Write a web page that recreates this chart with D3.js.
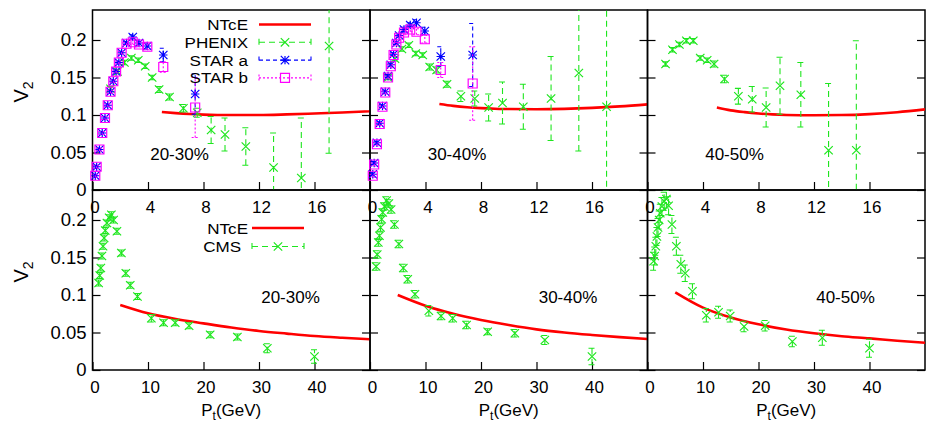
<!DOCTYPE html>
<html><head><meta charset="utf-8">
<script src="https://cdn.jsdelivr.net/npm/d3@7"></script>
<style>body{margin:0;background:#fff} svg{display:block}</style>
</head><body><svg id="c" width="926" height="436"></svg>
<script>
// ---------------- data ----------------
const centralityLabels = ["20-30%", "30-40%", "40-50%"];
const topXTicks = [0, 4, 8, 12, 16];
const bottomXTicks = [0, 10, 20, 30, 40];
const yTicks = [0, 0.05, 0.1, 0.15, 0.2];
const yTickLabels = ["0", "0.05", "0.1", "0.15", "0.2"];

// NTcE model curves
const ntceTopPt = [5, 6, 7, 8, 9, 10, 12, 14, 16, 18, 20];
const ntceTop2030 = [0.104, 0.1025, 0.1013, 0.1005, 0.1001, 0.1, 0.1, 0.1008, 0.102, 0.1033, 0.105];
const ntceTop3040 = [0.1147, 0.1122, 0.1104, 0.1092, 0.1084, 0.1079, 0.1077, 0.1082, 0.1095, 0.1115, 0.1142];
const ntceTop4050 = [0.110, 0.1062, 0.1038, 0.102, 0.1008, 0.1001, 0.0996, 0.0999, 0.1012, 0.1037, 0.1075];
const ntceBotPt = [5, 10, 15, 20, 25, 30, 35, 40, 45, 50];
const ntceBot2030 = [0.0867, 0.0756, 0.068, 0.0622, 0.0567, 0.052, 0.0485, 0.0453, 0.043, 0.041];
const ntceBot3040 = [0.100, 0.0857, 0.075, 0.0667, 0.060, 0.0542, 0.050, 0.0467, 0.0438, 0.0413];
const ntceBot4050 = [0.1035, 0.0831, 0.070, 0.0609, 0.054, 0.0489, 0.045, 0.0422, 0.039, 0.0364];

// PHENIX
const phenixPt = [1.3, 1.8, 2.3, 2.8, 3.3, 3.8, 4.3, 4.8, 5.55, 6.55, 7.55, 8.55, 9.55, 11.05, 13.05, 15.05, 17.05];
const phenix2030 = [0.135, 0.158, 0.170, 0.176, 0.173, 0.165, 0.150, 0.134, 0.124, 0.109, 0.103, 0.080, 0.074, 0.058, 0.030, 0.016, 0.192];
const phenix2030Err = [0.003, 0.003, 0.003, 0.003, 0.003, 0.003, 0.003, 0.004, 0.004, 0.005, 0.006, 0.018, 0.022, 0.025, 0.046, 0.080, 0.143];
const phenix3040 = [0.150, 0.175, 0.188, 0.193, 0.182, 0.180, 0.164, 0.160, 0.141, 0.125, 0.122, 0.110, 0.116, 0.111, 0.122, 0.156, 0.111];
const phenix3040Err = [0.003, 0.003, 0.003, 0.003, 0.003, 0.003, 0.004, 0.004, 0.004, 0.007, 0.010, 0.018, 0.028, 0.030, 0.056, 0.104, 0.160];
const phenix4050 = [0.168, 0.187, 0.194, 0.199, 0.199, 0.176, 0.173, 0.168, 0.148, 0.125, 0.121, 0.110, 0.139, 0.127, 0.053, 0.053, null];
const phenix4050Err = [0.003, 0.003, 0.003, 0.003, 0.003, 0.003, 0.003, 0.004, 0.005, 0.0105, 0.017, 0.026, 0.038, 0.043, 0.089, 0.146, null];

// STAR
const starPt = [0.2, 0.3, 0.5, 0.7, 0.9, 1.1, 1.3, 1.5, 1.7, 1.9, 2.1, 2.45, 2.9, 3.35, 3.95, 5.1, 7.4];
const starA2030 = [0.019, 0.031, 0.054, 0.076, 0.096, 0.113, 0.131, 0.145, 0.158, 0.170, 0.183, 0.196, 0.204, 0.196, 0.192, 0.180, 0.128];
const starA2030Err = [0.002, 0.002, 0.002, 0.002, 0.002, 0.002, 0.002, 0.002, 0.002, 0.002, 0.002, 0.002, 0.003, 0.003, 0.004, 0.009, 0.027];
const starB2030 = [0.019, 0.031, 0.054, 0.076, 0.096, 0.113, 0.131, 0.145, 0.158, 0.170, 0.183, 0.195, 0.197, 0.194, 0.191, 0.164, 0.110];
const starB2030Err = [0.002, 0.002, 0.002, 0.002, 0.002, 0.002, 0.002, 0.002, 0.002, 0.002, 0.002, 0.002, 0.003, 0.003, 0.004, 0.007, 0.040];
const starA3040 = [0.021, 0.036, 0.063, 0.089, 0.112, 0.131, 0.152, 0.167, 0.181, 0.196, 0.206, 0.214, 0.220, 0.223, 0.212, 0.178, 0.180];
const starA3040Err = [0.002, 0.002, 0.002, 0.002, 0.002, 0.002, 0.002, 0.002, 0.002, 0.002, 0.002, 0.003, 0.003, 0.004, 0.005, 0.013, 0.042];
const starB3040 = [0.019, 0.034, 0.061, 0.088, 0.111, 0.130, 0.150, 0.165, 0.180, 0.194, 0.203, 0.210, 0.214, 0.211, 0.201, 0.160, 0.142];
const starB3040Err = [0.002, 0.002, 0.002, 0.002, 0.002, 0.002, 0.002, 0.002, 0.002, 0.002, 0.002, 0.003, 0.003, 0.004, 0.005, 0.010, 0.049];

// CMS
const cmsPt = [1.1, 1.3, 1.5, 1.7, 1.9, 2.1, 2.3, 2.6, 3.0, 3.4, 3.8, 4.4, 5.2, 6.0, 6.8, 8.1, 10.6, 12.8, 14.9, 17.4, 21.2, 26.1, 31.5, 40.0];
const cms2030 = [0.116, 0.126, 0.136, 0.152, 0.165, 0.176, 0.186, 0.196, 0.203, 0.207, 0.200, 0.185, 0.156, 0.129, 0.113, 0.098, 0.069, 0.063, 0.063, 0.059, 0.047, 0.044, 0.029, 0.018];
const cms2030Err = [0.004, 0.004, 0.004, 0.004, 0.004, 0.004, 0.004, 0.004, 0.004, 0.004, 0.004, 0.004, 0.004, 0.004, 0.004, 0.004, 0.005, 0.004, 0.004, 0.004, 0.004, 0.004, 0.006, 0.009];
const cms3040 = [0.138, 0.154, 0.170, 0.179, 0.190, 0.201, 0.210, 0.218, 0.226, 0.222, 0.214, 0.194, 0.168, 0.136, 0.121, 0.101, 0.079, 0.072, 0.069, 0.060, 0.051, 0.049, 0.040, 0.018];
const cms3040Err = [0.005, 0.005, 0.005, 0.005, 0.005, 0.005, 0.005, 0.005, 0.005, 0.005, 0.005, 0.005, 0.005, 0.005, 0.005, 0.005, 0.007, 0.005, 0.005, 0.005, 0.004, 0.005, 0.006, 0.011];
const cms4050 = [0.145, 0.152, 0.165, 0.178, 0.190, 0.200, 0.209, 0.218, 0.225, 0.228, 0.219, 0.194, 0.165, 0.141, 0.129, 0.105, 0.073, 0.077, 0.072, 0.058, 0.059, 0.038, 0.043, 0.029];
const cms4050Err = [0.012, 0.012, 0.012, 0.012, 0.012, 0.012, 0.012, 0.012, 0.012, 0.012, 0.012, 0.012, 0.012, 0.012, 0.011, 0.010, 0.009, 0.008, 0.008, 0.007, 0.007, 0.007, 0.010, 0.012];

// ---------------- tables built from the arrays ----------------
const topRows = [
  { ntce: ntceTop2030, phenix: phenix2030, phenixErr: phenix2030Err, starA: starA2030, starAErr: starA2030Err, starB: starB2030, starBErr: starB2030Err },
  { ntce: ntceTop3040, phenix: phenix3040, phenixErr: phenix3040Err, starA: starA3040, starAErr: starA3040Err, starB: starB3040, starBErr: starB3040Err },
  { ntce: ntceTop4050, phenix: phenix4050, phenixErr: phenix4050Err, starA: null, starB: null }
];
const bottomRows = [
  { ntce: ntceBot2030, cms: cms2030, cmsErr: cms2030Err },
  { ntce: ntceBot3040, cms: cms3040, cmsErr: cms3040Err },
  { ntce: ntceBot4050, cms: cms4050, cmsErr: cms4050Err }
];

// ---------------- drawing ----------------
const FONT = '"Liberation Sans", Arial, Helvetica, sans-serif';
const FS = 17;
const RED = "#ff0000", GREEN = "#1ee61e", BLUE = "#0000ff", MAGENTA = "#ff00ff";
const svg = d3.select("#c");
const L0 = 92.5, W = 277.5, TOP = 10, H = 180;
const defs = svg.append("defs");

function makePanel(row, col) {
  const x0 = L0 + col * W, y0 = TOP + row * H;
  const x = d3.scaleLinear().domain(row === 0 ? [0, 20] : [0, 50]).range([x0, x0 + W]);
  const y = d3.scaleLinear().domain([0, 0.24]).range([y0 + H, y0]);
  const id = "clip" + row + col;
  defs.append("clipPath").attr("id", id).append("rect")
    .attr("x", x0).attr("y", y0).attr("width", W).attr("height", H);
  return { x, y, x0, y0, row, col, clip: "url(#" + id + ")" };
}

function drawAxes(p) {
  const xt = p.row === 0 ? topXTicks : bottomXTicks;
  const gx = svg.append("g").attr("transform", `translate(0,${p.y0 + H})`)
    .call(d3.axisBottom(p.x).tickValues(xt).tickSize(-8).tickPadding(11).tickFormat(d3.format("d")));
  gx.select(".domain").remove();
  gx.attr("font-size", FS).attr("font-family", FONT);
  gx.selectAll("text").attr("fill", "#000").attr("dx", 2);
  gx.selectAll("line").attr("stroke", "#000").attr("stroke-width", 1.2);

  const gy = svg.append("g").attr("transform", `translate(${p.x0},0)`)
    .call(d3.axisLeft(p.y).tickValues(yTicks).tickSize(-8).tickPadding(6)
      .tickFormat((d, i) => p.col === 0 ? yTickLabels[i] : ""));
  gy.select(".domain").remove();
  gy.attr("font-size", 18.5).attr("font-family", FONT);
  gy.selectAll("text").attr("fill", "#000");
  gy.selectAll("line").attr("stroke", "#000").attr("stroke-width", 1.2);

  const gr = svg.append("g").attr("transform", `translate(${p.x0 + W},0)`)
    .call(d3.axisRight(p.y).tickValues(yTicks).tickSize(-8).tickFormat(""));
  gr.select(".domain").remove();
  gr.selectAll("line").attr("stroke", "#000").attr("stroke-width", 1.2);
}

function drawFrame(p) {
  svg.append("rect").attr("x", p.x0).attr("y", p.y0).attr("width", W).attr("height", H)
    .attr("fill", "none").attr("stroke", "#000").attr("stroke-width", 1.5);
}

function drawCurve(p, pts, vals) {
  svg.append("path").datum(pts.map((d, i) => [d, vals[i]]))
    .attr("d", d3.line().x(d => p.x(d[0])).y(d => p.y(d[1])).curve(d3.curveMonotoneX))
    .attr("fill", "none").attr("stroke", RED).attr("stroke-width", 2.6)
    .attr("clip-path", p.clip);
}

function markerPath(type, cx, cy, s) {
  const cross = `M${cx - s},${cy - s}L${cx + s},${cy + s}M${cx - s},${cy + s}L${cx + s},${cy - s}`;
  if (type === "x") return cross;
  if (type === "star") return cross + `M${cx - s},${cy}L${cx + s},${cy}M${cx},${cy - s}L${cx},${cy + s}`;
  return `M${cx - s},${cy - s}H${cx + s}V${cy + s}H${cx - s}Z`;
}

function drawErrSeries(p, pts, vals, errs, color, dash, type) {
  const g = svg.append("g");
  const eg = g.append("g").attr("clip-path", p.clip);
  const cap = 3.5;
  pts.forEach((pt, i) => {
    const v = vals[i];
    if (v == null) return;
    const cx = p.x(pt), cy = p.y(v);
    const e = errs[i];
    const yl = p.y(v - e), yh = p.y(v + e);
    eg.append("path")
      .attr("d", `M${cx},${yl}V${yh}M${cx - cap},${yl}H${cx + cap}M${cx - cap},${yh}H${cx + cap}`)
      .attr("stroke", color).attr("stroke-width", 1.1).attr("fill", "none")
      .attr("stroke-dasharray", dash);
    g.append("path").attr("d", markerPath(type, cx, cy, type === "sq" ? 4.5 : 4.2))
      .attr("stroke", color).attr("stroke-width", 1.2).attr("fill", "none");
  });
}

function legendRow(yc, label, color, dash, type, textX, lx1, lx2) {
  svg.append("g").attr("transform", `translate(${textX},${yc + 5.5}) scale(1.1,1)`)
    .append("text").attr("x", 0).attr("y", 0).attr("text-anchor", "end")
    .attr("font-family", FONT).attr("font-size", 15.5).text(label);
  if (type === "line") {
    svg.append("line").attr("x1", lx1).attr("x2", lx2).attr("y1", yc).attr("y2", yc)
      .attr("stroke", RED).attr("stroke-width", 2.6);
    return;
  }
  svg.append("path").attr("d", `M${lx1},${yc}H${lx2}M${lx1},${yc - 3.5}V${yc + 3.5}M${lx2},${yc - 3.5}V${yc + 3.5}`)
    .attr("stroke", color).attr("stroke-width", 1.1).attr("fill", "none").attr("stroke-dasharray", dash);
  const mx = (lx1 + lx2) / 2;
  svg.append("path").attr("d", markerPath(type, mx, yc, type === "sq" ? 4.5 : 4.2))
    .attr("stroke", color).attr("stroke-width", 1.2).attr("fill", "none");
}

const DASH_G = "6,4", DASH_B = "4,3", DASH_M = "2,2";

[0, 1].forEach(row => {
  [0, 1, 2].forEach(col => {
    const p = makePanel(row, col);
    drawAxes(p);
    drawFrame(p);
    if (row === 0) {
      const r = topRows[col];
      drawCurve(p, ntceTopPt, r.ntce);
      drawErrSeries(p, phenixPt, r.phenix, r.phenixErr, GREEN, DASH_G, "x");
      if (r.starA) drawErrSeries(p, starPt, r.starA, r.starAErr, BLUE, DASH_B, "star");
      if (r.starB) drawErrSeries(p, starPt, r.starB, r.starBErr, MAGENTA, DASH_M, "sq");
    } else {
      const r = bottomRows[col];
      drawCurve(p, ntceBotPt, r.ntce);
      drawErrSeries(p, cmsPt, r.cms, r.cmsErr, GREEN, DASH_G, "x");
    }
    // centrality label
    svg.append("text")
      .attr("x", p.x0 + (row === 0 ? 87 : 198)).attr("y", row === 0 ? 160 : 303)
      .attr("text-anchor", "middle").attr("font-family", FONT).attr("font-size", FS)
      .text(centralityLabels[col]);
    // y label
    if (col === 0) {
      const t = svg.append("text")
        .attr("transform", `translate(28,${p.y0 + H / 2 - 8}) rotate(-90)`)
        .attr("text-anchor", "middle").attr("font-family", FONT).attr("font-size", 20);
      t.append("tspan").text("V");
      t.append("tspan").attr("font-size", 14).attr("dy", 5).text("2");
    }
    // x label
    if (row === 1) {
      const t = svg.append("text").attr("x", p.x0 + W / 2).attr("y", 416)
        .attr("text-anchor", "middle").attr("font-family", FONT).attr("font-size", FS);
      t.append("tspan").text("P");
      t.append("tspan").attr("font-size", 12).attr("dy", 4).text("t");
      t.append("tspan").attr("dy", -4).text("(GeV)");
    }
  });
});

// legends
legendRow(24.5, "NTcE", RED, null, "line", 248, 259, 311);
legendRow(42.3, "PHENIX", GREEN, DASH_G, "x", 248, 259, 311);
legendRow(60.1, "STAR a", BLUE, DASH_B, "star", 248, 259, 311);
legendRow(77.9, "STAR b", MAGENTA, DASH_M, "sq", 248, 259, 311);
legendRow(228, "NTcE", RED, null, "line", 248, 252, 304);
legendRow(246.5, "CMS", GREEN, DASH_G, "x", 241, 252, 304);
</script>
</body></html>
